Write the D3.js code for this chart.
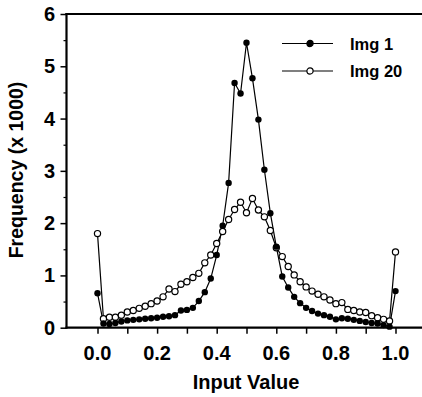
<!DOCTYPE html>
<html>
<head>
  <meta charset="utf-8">
  <script src="https://d3js.org/d3.v7.min.js"></script>
  <style>
    body { margin: 0; background: #fff; }
    text { font-family: "Liberation Sans", Arial, sans-serif; font-weight: bold; fill: #000; }
  </style>
</head>
<body>
<script type="text/javascript">
  "use strict";

  // input values, one bin every 0.02
  var inputValues = d3.range(51).map(function (i) { return +(i * 0.02).toFixed(2); });

  // frequency (x 1000)
  var img1 = [0.66, 0.08, 0.07, 0.09, 0.12, 0.14, 0.15, 0.16, 0.17, 0.18,
              0.19, 0.21, 0.22, 0.24, 0.33, 0.34, 0.38, 0.51, 0.68, 0.94,
              1.39, 1.95, 2.77, 4.68, 4.48, 5.45, 4.77, 3.98, 3.02, 2.19,
              1.55, 0.98, 0.77, 0.59, 0.47, 0.38, 0.32, 0.27, 0.24, 0.21,
              0.16, 0.18, 0.17, 0.15, 0.13, 0.11, 0.09, 0.08, 0.05, 0.02,
              0.70];
  var img20 = [1.80, 0.17, 0.20, 0.20, 0.24, 0.30, 0.33, 0.37, 0.41, 0.46,
               0.51, 0.59, 0.74, 0.69, 0.83, 0.88, 0.96, 1.04, 1.24, 1.39,
               1.61, 1.84, 2.07, 2.26, 2.40, 2.20, 2.47, 2.25, 2.12, 1.86,
               1.53, 1.36, 1.17, 1.01, 0.88, 0.78, 0.70, 0.64, 0.59, 0.53,
               0.46, 0.48, 0.35, 0.33, 0.30, 0.29, 0.23, 0.19, 0.16, 0.13,
               1.45];

  var seriesNames = ["Img 1", "Img 20"];
  var xTicks = [0, 0.2, 0.4, 0.6, 0.8, 1.0];
  var yTicks = [0, 1, 2, 3, 4, 5, 6];

  var width = 422, height = 397;
  var plotLeft = 66.5, plotRight = 422, plotTop = 14, plotBottom = 327.7;

  var svg = d3.select("body").append("svg")
      .attr("width", width)
      .attr("height", height);

  var x = d3.scaleLinear().domain([0, 1]).range([97.5, 395.5]);
  var y = d3.scaleLinear().domain([0, 6]).range([plotBottom, plotTop]);

  // minor ticks every 0.1 on x, 0.5 on y
  var xMinor = d3.range(0, 1.01, 0.1).map(function (d) { return +d.toFixed(1); });
  var yMinor = d3.range(0.5, 6, 1);

  var xAxis = svg.append("g")
      .attr("transform", "translate(0," + plotBottom + ")")
      .call(d3.axisBottom(x).tickValues(xMinor).tickSize(6).tickFormat(""));
  xAxis.select(".domain").remove();
  xAxis.selectAll("line").attr("stroke-width", 1.5);

  var yAxis = svg.append("g")
      .attr("transform", "translate(" + plotLeft + ",0)")
      .call(d3.axisLeft(y).tickValues(yTicks).tickSize(6).tickFormat(""));
  yAxis.select(".domain").remove();
  yAxis.selectAll("line").attr("stroke-width", 1.5);

  svg.append("g")
      .attr("transform", "translate(" + plotLeft + ",0)")
      .call(d3.axisLeft(y).tickValues(yMinor).tickSize(3).tickFormat(""))
    .call(function (g) { g.select(".domain").remove(); g.selectAll("line").attr("stroke-width", 1.2); });

  // frame: left, bottom, top
  svg.append("line").attr("x1", plotLeft).attr("x2", plotLeft).attr("y1", plotTop - 1).attr("y2", plotBottom + 1)
      .attr("stroke", "#000").attr("stroke-width", 2.2);
  svg.append("line").attr("x1", plotLeft - 1).attr("x2", plotRight).attr("y1", plotBottom).attr("y2", plotBottom)
      .attr("stroke", "#000").attr("stroke-width", 2.2);
  svg.append("line").attr("x1", plotLeft - 1).attr("x2", plotRight).attr("y1", plotTop).attr("y2", plotTop)
      .attr("stroke", "#000").attr("stroke-width", 1.8);

  // tick labels
  svg.selectAll(".xlab").data(xTicks).enter().append("text")
      .attr("x", function (d) { return x(d); })
      .attr("y", 360)
      .attr("text-anchor", "middle")
      .style("font-size", "20px")
      .text(function (d) { return d.toFixed(1); });

  svg.selectAll(".ylab").data(yTicks).enter().append("text")
      .attr("x", 55)
      .attr("y", function (d) { return y(d) + 7; })
      .attr("text-anchor", "end")
      .style("font-size", "20px")
      .text(function (d) { return d; });

  // axis titles
  svg.append("text")
      .attr("x", 246).attr("y", 389)
      .attr("text-anchor", "middle")
      .style("font-size", "20px")
      .text("Input Value");

  svg.append("text")
      .attr("transform", "translate(23,170) rotate(-90)")
      .attr("text-anchor", "middle")
      .style("font-size", "19.5px")
      .text("Frequency (x 1000)");

  var line = d3.line()
      .x(function (d, i) { return x(inputValues[i]); })
      .y(function (d) { return y(d); });

  // lines first, then markers on top
  svg.append("path").datum(img20).attr("d", line)
      .attr("fill", "none").attr("stroke", "#000").attr("stroke-width", 1.2);
  svg.append("path").datum(img1).attr("d", line)
      .attr("fill", "none").attr("stroke", "#000").attr("stroke-width", 1.2);

  svg.selectAll(".p20").data(img20).enter().append("circle")
      .attr("cx", function (d, i) { return x(inputValues[i]); })
      .attr("cy", function (d) { return y(d); })
      .attr("r", 3.1)
      .attr("fill", "#fff").attr("stroke", "#000").attr("stroke-width", 1.2);

  svg.selectAll(".p1").data(img1).enter().append("circle")
      .attr("cx", function (d, i) { return x(inputValues[i]); })
      .attr("cy", function (d) { return y(d); })
      .attr("r", 3.2)
      .attr("fill", "#000");

  // legend
  var legend = svg.selectAll(".legend").data(seriesNames).enter().append("g")
      .attr("transform", function (d, i) { return "translate(0," + (43.5 + i * 27.5) + ")"; });
  legend.append("line").attr("x1", 282).attr("x2", 333).attr("y1", 0).attr("y2", 0)
      .attr("stroke", "#000").attr("stroke-width", 1.2);
  legend.append("circle").attr("cx", 310).attr("cy", 0).attr("r", 3.1)
      .attr("fill", function (d, i) { return i === 0 ? "#000" : "#fff"; })
      .attr("stroke", "#000").attr("stroke-width", 1.2);
  legend.append("text")
      .attr("x", 350).attr("y", 6)
      .style("font-size", "16.5px")
      .text(function (d) { return d; });
</script>
</body>
</html>
